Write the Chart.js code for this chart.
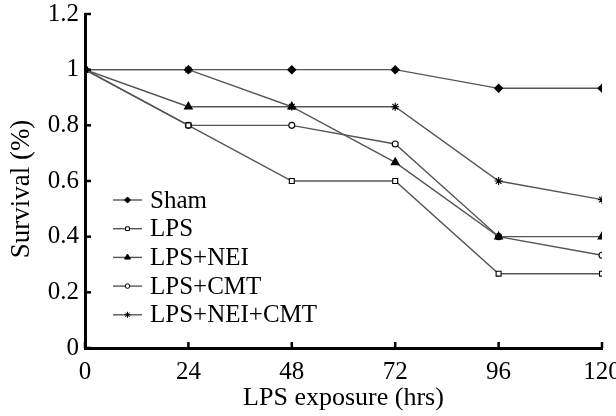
<!DOCTYPE html>
<html>
<head>
<meta charset="utf-8">
<script src="https://cdn.jsdelivr.net/npm/chart.js@4.4.0/dist/chart.umd.min.js"></script>
<style>
  html, body { margin: 0; padding: 0; background: #fff; }
  #wrap { width: 616px; height: 416px; }
</style>
</head>
<body>
<div id="wrap"><canvas id="grafico" width="616" height="416"></canvas></div>
<script>
const hours = [0, 24, 48, 72, 96, 120];
const labels = ['Sham', 'LPS', 'LPS+NEI', 'LPS+CMT', 'LPS+NEI+CMT'];
const sham = [1, 1, 1, 1, 0.933, 0.933];
const lps = [1, 0.8, 0.6, 0.6, 0.267, 0.267];
const lpsNei = [1, 0.867, 0.867, 0.667, 0.4, 0.4];
const lpsCmt = [1, 0.8, 0.8, 0.733, 0.4, 0.333];
const lpsNeiCmt = [1, 1, 0.867, 0.867, 0.6, 0.533];
const yTicks = [0, 0.2, 0.4, 0.6, 0.8, 1, 1.2];

const serie = [sham, lps, lpsNei, lpsCmt, lpsNeiCmt];
const estilos = [
    { pointStyle: 'rectRot', radius: 4, bg: '#000' },
    { pointStyle: 'rect', radius: 3.5, bg: '#fff' },
    { pointStyle: 'triangle', radius: 4.5, bg: '#000' },
    { pointStyle: 'circle', radius: 3, bg: '#fff' },
    { pointStyle: 'star', radius: 4, bg: '#000' }
];
const FUENTE = "'Liberation Serif', 'Times New Roman', serif";

const datasets = serie.map((vals, i) => ({
    label: labels[i],
    data: vals.map((v, j) => ({ x: hours[j], y: v })),
    borderColor: '#555555',
    borderWidth: 1.4,
    tension: 0,
    fill: false,
    pointStyle: estilos[i].pointStyle,
    pointRadius: estilos[i].radius,
    pointBackgroundColor: estilos[i].bg,
    pointBorderColor: '#000',
    pointBorderWidth: 1.1
}));

// ticks hacia adentro, título del eje y, leyenda con línea y marcador
const extras = {
    id: 'extras',
    afterDraw(chart) {
        const ctx = chart.ctx;
        const xs = chart.scales.x, ys = chart.scales.y;
        const area = chart.chartArea;
        ctx.save();
        ctx.strokeStyle = '#000';
        ctx.lineWidth = 2.5;
        xs.ticks.forEach(t => {
            const px = xs.getPixelForValue(t.value);
            ctx.beginPath();
            ctx.moveTo(px, area.bottom);
            ctx.lineTo(px, area.bottom - 6);
            ctx.stroke();
        });
        ys.ticks.forEach(t => {
            const py = ys.getPixelForValue(t.value);
            ctx.beginPath();
            ctx.moveTo(area.left, py);
            ctx.lineTo(area.left + 6, py);
            ctx.stroke();
        });

        // título eje y
        ctx.save();
        ctx.translate(22, 189);
        ctx.rotate(-Math.PI / 2);
        ctx.font = '27px ' + FUENTE;
        ctx.textAlign = 'center';
        ctx.textBaseline = 'middle';
        ctx.fillStyle = '#000';
        ctx.fillText('Survival (%)', 0, 0);
        ctx.restore();

        // leyenda
        ctx.font = '25px ' + FUENTE;
        ctx.textBaseline = 'middle';
        chart.data.datasets.forEach((ds, i) => {
            const y = 200 + i * 28.7;
            ctx.strokeStyle = ds.borderColor;
            ctx.lineWidth = 1.4;
            ctx.beginPath();
            ctx.moveTo(113, y);
            ctx.lineTo(142, y);
            ctx.stroke();
            ctx.strokeStyle = '#000';
            ctx.fillStyle = ds.pointBackgroundColor;
            ctx.lineWidth = 1;
            Chart.helpers.drawPoint(ctx, {
                pointStyle: ds.pointStyle,
                radius: ds.pointRadius * 0.75,
                rotation: 0,
                borderWidth: 1
            }, 127.5, y);
            ctx.fillStyle = '#000';
            ctx.fillText(ds.label, 150, y + 1);
        });
        ctx.restore();
    }
};

const ctx = document.getElementById('grafico').getContext('2d');
const chart = new Chart(ctx, {
    type: 'line',
    data: { datasets: datasets },
    options: {
        responsive: false,
        animation: false,
        layout: { padding: { top: 14, right: 14, left: 0, bottom: 0 } },
        plugins: {
            legend: { display: false },
            tooltip: { enabled: false }
        },
        scales: {
            x: {
                type: 'linear',
                min: 0,
                max: 120,
                afterBuildTicks: s => { s.ticks = hours.map(v => ({ value: v })); },
                afterFit: s => { s.height = 68; s.paddingLeft = 0; s.paddingRight = 0; },
                grid: { drawOnChartArea: false, drawTicks: false },
                border: { display: true, color: '#000', width: 3 },
                ticks: {
                    color: '#000',
                    padding: 9,
                    maxRotation: 0,
                    autoSkip: false,
                    font: { family: FUENTE, size: 25 }
                },
                title: {
                    display: true,
                    text: 'LPS exposure (hrs)',
                    color: '#000',
                    padding: { top: 0, bottom: 2 },
                    font: { family: FUENTE, size: 26 }
                }
            },
            y: {
                min: 0,
                max: 1.2,
                afterBuildTicks: s => { s.ticks = yTicks.map(v => ({ value: v })); },
                afterFit: s => { s.width = 85; s.paddingTop = 0; s.paddingBottom = 0; },
                grid: { drawOnChartArea: false, drawTicks: false },
                border: { display: true, color: '#000', width: 3 },
                ticks: {
                    color: '#000',
                    padding: 6,
                    autoSkip: false,
                    font: { family: FUENTE, size: 25 },
                    callback: v => String(parseFloat(v.toFixed(1)))
                },
                title: { display: false }
            }
        }
    },
    plugins: [extras]
});
</script>
</body>
</html>
